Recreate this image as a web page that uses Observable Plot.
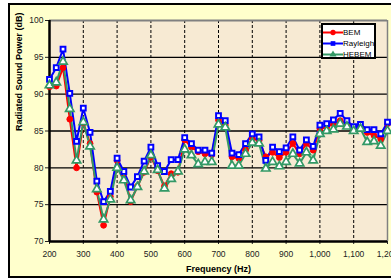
<!DOCTYPE html>
<html>
<head>
<meta charset="utf-8">
<script src="https://cdn.jsdelivr.net/npm/d3@7"></script>
<script src="https://cdn.jsdelivr.net/npm/@observablehq/plot@0.6"></script>
<style>
  html, body { margin: 0; padding: 0; background: #ffffff; }
  #wrap { position: relative; width: 391px; height: 278px; overflow: hidden; font-family: "Liberation Sans", Arial, sans-serif; }
  #frame { position: absolute; left: 8px; top: 3px; width: 400px; height: 271px; border: 2px solid #000; background: #FFFFCC; }
  #chart { position: absolute; left: 0; top: 0; }
  #legend { position: absolute; left: 321px; top: 23px; width: 51px; height: 32px; border: 2px solid #000; background: #fff; overflow: hidden; }
  .li { position: absolute; left: 0; height: 11px; font-size: 8px; line-height: 11px; color: #000; white-space: nowrap; }
  .li svg { position: absolute; left: 0; top: 0; }
  .li span { position: absolute; left: 20px; top: 0; }
</style>
</head>
<body>
<div id="wrap">
  <div id="frame"></div>
  <div id="chart"></div>
  <div id="legend"></div>
</div>
<script>
const freq = [200,220,240,260,280,300,320,340,360,380,400,420,440,460,480,500,520,540,560,580,600,620,640,660,680,700,720,740,760,780,800,820,840,860,880,900,920,940,960,980,1000,1020,1040,1060,1080,1100,1120,1140,1160,1180,1200];
const bem = [91.0,91.1,93.6,86.6,80.0,86.1,83.3,76.7,72.2,76.1,81.0,79.3,75.4,77.5,79.4,81.5,79.6,77.5,79.2,79.4,83.8,82.8,82.2,81.9,81.8,86.5,85.8,81.5,81.3,82.4,84.0,83.7,81.5,82.1,81.4,82.1,83.3,81.9,83.3,82.4,85.3,85.5,86.0,86.4,86.0,85.4,85.6,84.8,84.4,83.9,86.0];
const rayleigh = [92.0,93.6,96.1,90.1,83.6,88.1,84.8,78.2,75.4,76.8,81.3,79.5,77.4,78.8,80.9,82.8,80.3,79.5,81.1,81.1,84.1,83.3,82.4,82.4,82.0,87.1,86.4,82.0,81.8,83.3,84.6,84.2,81.0,82.8,82.2,82.7,84.2,82.4,83.8,82.9,85.8,86.0,86.5,87.4,86.4,85.6,85.9,85.2,85.2,84.6,86.2];
const hebem = [91.2,91.6,94.4,88.0,81.0,86.2,82.9,77.1,73.0,75.7,80.0,78.3,75.6,77.4,79.5,81.7,79.7,77.2,78.5,79.5,82.5,81.7,80.5,80.8,80.8,85.9,85.5,80.3,80.3,81.9,83.4,83.3,79.9,80.8,80.2,80.8,81.9,80.6,82.1,81.0,84.6,85.0,85.2,86.0,85.6,85.0,85.3,83.5,83.6,83.0,85.0];
const seriesNames = ["BEM", "Rayleigh", "HEBEM"];
const seriesColors = ["#FF0000", "#0000FF", "#339966"];
const yTicks = [70, 75, 80, 85, 90, 95, 100];
const xTicks = [200, 300, 400, 500, 600, 700, 800, 900, 1000, 1100, 1200];
const yGrid = [75, 80, 85, 90, 95];
const xGrid = [300, 400, 500, 600, 700, 800, 900, 1000, 1100];

const values = [bem, rayleigh, hebem];
const rows = (i) => freq.map((f, k) => ({freq: f, value: values[i][k], series: seriesNames[i]}));
const data = [0, 1, 2].flatMap(rows);

const font = "Liberation Sans, Arial, sans-serif";
const chart = Plot.plot({
  width: 391,
  height: 278,
  marginLeft: 49,
  marginRight: 4,
  marginTop: 20,
  marginBottom: 37,
  style: {background: "transparent", fontFamily: font, fontSize: "8.5px", color: "#222"},
  x: {domain: [200, 1200]},
  y: {domain: [70, 100]},
  marks: [
    Plot.frame({fill: "#F7EAD3", stroke: null}),
    Plot.gridY(yGrid, {stroke: "#000", strokeOpacity: 1, strokeWidth: 1.4}),
    Plot.gridX(xGrid, {stroke: "#000", strokeOpacity: 1, strokeWidth: 1, strokeDasharray: "3,2"}),
    Plot.ruleY([100], {stroke: "#808080", strokeWidth: 2}),
    Plot.ruleX([1200], {stroke: "#808080", strokeWidth: 1.5}),
    Plot.axisY(yTicks, {tickSize: 4, tickPadding: 2, label: null, fontSize: 8.5, fill: "#222"}),
    Plot.axisX(xTicks, {tickSize: 3, tickPadding: 6, label: null, fontSize: 8.5, fill: "#222"}),
    Plot.ruleX([200], {stroke: "#000", strokeWidth: 2.5}),
    Plot.ruleY([70], {stroke: "#000", strokeWidth: 2.5}),
    Plot.line(data, {x: "freq", y: "value", z: "series", stroke: "series", strokeWidth: 2}),
    Plot.dot(rows(0), {x: "freq", y: "value", symbol: "circle", r: 2.9, fill: seriesColors[0], stroke: seriesColors[0], strokeWidth: 1}),
    Plot.dot(rows(1), {x: "freq", y: "value", symbol: "square", r: 2.7, fill: "#fff", stroke: seriesColors[1], strokeWidth: 2}),
    Plot.dot(rows(2), {x: "freq", y: "value", symbol: "triangle", r: 3.1, fill: "#fff", stroke: seriesColors[2], strokeWidth: 1.7}),
    Plot.text(["Frequency (Hz)"], {frameAnchor: "bottom", dy: 30, fontWeight: "bold", fontSize: 9, fill: "#000"}),
    Plot.text(["Radiated Sound Power (dB)"], {frameAnchor: "left", dx: -30, rotate: -90, fontWeight: "bold", fontSize: 9, fill: "#000"})
  ],
  color: {domain: seriesNames, range: seriesColors}
});
document.getElementById("chart").appendChild(chart);

// legend
const legend = document.getElementById("legend");
const symbols = ["circle", "square", "triangle"];
seriesNames.forEach((name, i) => {
  const item = document.createElement("div");
  item.className = "li";
  item.style.top = (2 + i * 11) + "px";
  const ns = "http://www.w3.org/2000/svg";
  const s = document.createElementNS(ns, "svg");
  s.setAttribute("width", "20"); s.setAttribute("height", "11");
  const ln = document.createElementNS(ns, "line");
  ln.setAttribute("x1", "0"); ln.setAttribute("x2", "20"); ln.setAttribute("y1", "5.5"); ln.setAttribute("y2", "5.5");
  ln.setAttribute("stroke", seriesColors[i]); ln.setAttribute("stroke-width", "2");
  s.appendChild(ln);
  const p = document.createElementNS(ns, "path");
  p.setAttribute("d", d3.symbol(d3["symbol" + symbols[i][0].toUpperCase() + symbols[i].slice(1)], 22)());
  p.setAttribute("transform", "translate(10,5.5)");
  p.setAttribute("fill", seriesColors[i]);
  s.appendChild(p);
  item.appendChild(s);
  const t = document.createElement("span");
  t.textContent = name;
  item.appendChild(t);
  legend.appendChild(item);
});
</script>
</body>
</html>
